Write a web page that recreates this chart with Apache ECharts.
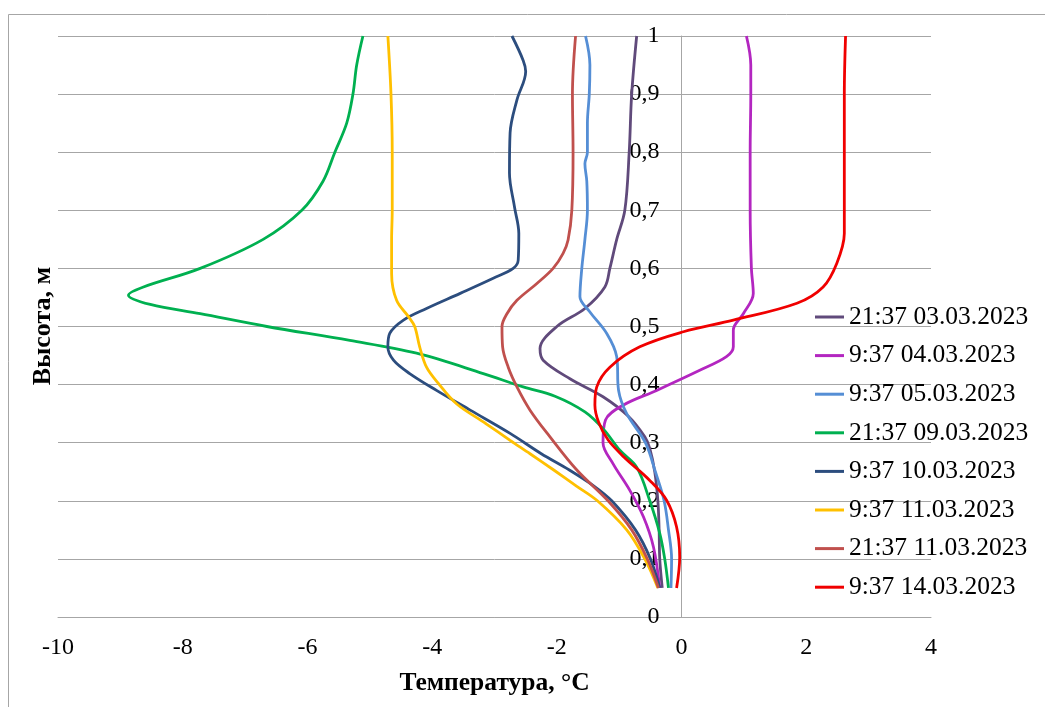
<!DOCTYPE html>
<html>
<head>
<meta charset="utf-8">
<script src="https://cdn.jsdelivr.net/npm/echarts@6/dist/echarts.min.js"></script>
<style>html,body{margin:0;padding:0;background:#fff}#c{width:1045px;height:707px}</style>
</head>
<body>
<div id="c"></div>
<script>
// Series names (legend order)
var seriesNames = ['21:37 03.03.2023','9:37 04.03.2023','9:37 05.03.2023','21:37 09.03.2023','9:37 10.03.2023','9:37 11.03.2023','21:37 11.03.2023','9:37 14.03.2023'];
var seriesColors = ['#604A7B','#B326C0','#558ED5','#00B050','#2C4D7E','#FFC000','#C0504D','#F00000'];

// [temperature °C, height m]
var s0303_2137 = [[-0.31,0.05],[-0.35,0.1],[-0.36,0.15],[-0.38,0.2],[-0.43,0.25],[-0.51,0.29],[-0.59,0.31],[-0.85,0.345],[-1.26,0.379],[-1.79,0.41],[-2.22,0.442],[-2.27,0.462],[-2.0,0.5],[-1.55,0.531],[-1.23,0.568],[-1.15,0.6],[-1.04,0.65],[-0.91,0.7],[-0.84,0.8],[-0.80,0.9],[-0.72,1.0]];
var s0403_0937 = [[-0.35,0.05],[-0.45,0.12],[-0.61,0.172],[-0.83,0.218],[-1.10,0.264],[-1.26,0.30],[-1.22,0.339],[-0.93,0.365],[-0.40,0.39],[0.30,0.425],[0.72,0.448],[0.83,0.465],[0.83,0.494],[0.99,0.522],[1.15,0.557],[1.12,0.6],[1.10,0.7],[1.10,0.8],[1.11,0.9],[1.11,0.95],[1.04,1.0]];
var s0503_0937 = [[-0.17,0.05],[-0.16,0.1],[-0.21,0.15],[-0.28,0.2],[-0.42,0.25],[-0.58,0.3],[-0.88,0.35],[-1.01,0.39],[-1.04,0.448],[-1.20,0.488],[-1.47,0.525],[-1.63,0.551],[-1.60,0.6],[-1.55,0.65],[-1.51,0.7],[-1.52,0.75],[-1.55,0.78],[-1.51,0.8],[-1.51,0.85],[-1.48,0.9],[-1.47,0.95],[-1.54,1.0]];
var s0903_2137 = [[-0.21,0.05],[-0.27,0.1],[-0.35,0.144],[-0.51,0.2],[-0.72,0.258],[-0.99,0.287],[-1.25,0.323],[-1.55,0.353],[-2.03,0.38],[-2.54,0.396],[-3.18,0.419],[-4.25,0.454],[-5.32,0.476],[-6.65,0.5],[-7.72,0.522],[-8.52,0.538],[-8.87,0.554],[-8.63,0.568],[-7.72,0.6],[-6.71,0.65],[-6.09,0.7],[-5.75,0.75],[-5.56,0.8],[-5.37,0.85],[-5.27,0.9],[-5.21,0.95],[-5.11,1.0]];
var s1003_0937 = [[-0.35,0.05],[-0.50,0.1],[-0.74,0.15],[-1.12,0.2],[-1.40,0.225],[-1.80,0.253],[-2.25,0.281],[-2.75,0.316],[-3.39,0.356],[-3.93,0.39],[-4.36,0.419],[-4.62,0.442],[-4.71,0.465],[-4.68,0.488],[-4.46,0.511],[-4.09,0.531],[-3.55,0.557],[-3.02,0.583],[-2.70,0.6],[-2.62,0.614],[-2.61,0.66],[-2.68,0.706],[-2.76,0.764],[-2.75,0.833],[-2.64,0.89],[-2.50,0.939],[-2.54,0.958],[-2.72,1.0]];
var s1103_0937 = [[-0.38,0.05],[-0.59,0.1],[-0.88,0.15],[-1.35,0.2],[-1.68,0.225],[-2.05,0.253],[-2.43,0.281],[-2.75,0.304],[-3.14,0.333],[-3.61,0.367],[-3.90,0.402],[-4.09,0.43],[-4.20,0.465],[-4.28,0.5],[-4.38,0.517],[-4.57,0.545],[-4.65,0.591],[-4.65,0.65],[-4.64,0.7],[-4.64,0.8],[-4.66,0.9],[-4.71,1.0]];
var s1103_2137 = [[-0.37,0.05],[-0.55,0.1],[-0.80,0.15],[-1.18,0.2],[-1.68,0.253],[-2.11,0.31],[-2.43,0.356],[-2.64,0.396],[-2.78,0.43],[-2.87,0.465],[-2.88,0.5],[-2.80,0.522],[-2.64,0.545],[-2.32,0.574],[-2.06,0.6],[-1.90,0.626],[-1.82,0.649],[-1.76,0.7],[-1.74,0.8],[-1.75,0.9],[-1.70,1.0]];
var s1403_0937 = [[-0.08,0.05],[-0.03,0.103],[-0.08,0.155],[-0.24,0.201],[-0.51,0.235],[-0.93,0.276],[-1.18,0.305],[-1.33,0.335],[-1.39,0.365],[-1.36,0.396],[-1.15,0.43],[-0.67,0.465],[0.03,0.491],[0.83,0.511],[1.85,0.54],[2.27,0.568],[2.49,0.609],[2.61,0.66],[2.61,0.7],[2.61,0.8],[2.61,0.9],[2.63,1.0]];
var seriesData = [s0303_2137,s0403_0937,s0503_0937,s0903_2137,s1003_0937,s1103_0937,s1103_2137,s1403_0937];

// Axis settings
var xMin = -10, xMax = 4, xStep = 2;
var yMin = 0, yMax = 1, yStep = 0.1;
var xTitle = 'Температура, °C';
var yTitle = 'Высота, м';

var FONT = "'Liberation Serif','Times New Roman',serif";
var GRID = {left: 58, right: 114, top: 36, bottom: 90};
var W = 1045;
var gridWidth = W - GRID.left - GRID.right;
// vertical axis crosses at temperature 0
var yAxisOffset = -((0 - xMin) / (xMax - xMin)) * gridWidth;

var chart = echarts.init(document.getElementById('c'), null, {renderer:'canvas'});
var series = seriesNames.map(function(n,i){
  return {
    name: n, type: 'line', data: seriesData[i], smooth: 0.35, symbol: 'none',
    lineStyle: {color: seriesColors[i], width: 2.8}, itemStyle: {color: seriesColors[i]},
    emphasis: {disabled: true}
  };
});
chart.setOption({
  animation: false,
  backgroundColor: '#fff',
  grid: {left: GRID.left, right: GRID.right, top: GRID.top, bottom: GRID.bottom, containLabel: false},
  xAxis: {
    type: 'value', min: xMin, max: xMax, interval: xStep,
    axisLine: {show: true, onZero: false, lineStyle: {color: '#a6a6a6', width: 1}},
    axisTick: {show: false},
    splitLine: {show: false},
    axisLabel: {margin: 19, color: '#000', fontFamily: FONT, fontSize: 24},
    name: xTitle, nameLocation: 'middle', nameGap: 53,
    nameTextStyle: {color: '#000', fontFamily: FONT, fontSize: 25.5, fontWeight: 'bold'}
  },
  yAxis: {
    type: 'value', min: yMin, max: yMax, interval: yStep, position: 'left', offset: yAxisOffset,
    axisLine: {show: true, onZero: false, lineStyle: {color: '#a6a6a6', width: 1}},
    axisTick: {show: false},
    splitLine: {show: true, lineStyle: {color: '#a6a6a6', width: 1}},
    axisLabel: {margin: 22, color: '#000', fontFamily: FONT, fontSize: 24,
      formatter: function(v){ var r = Math.round(v*10)/10; return String(r).replace('.', ','); }}
  },
  legend: {
    orient: 'vertical', left: 815, top: 304, padding: 0, itemWidth: 29, itemHeight: 3, itemGap: 12.6,
    icon: 'rect', selectedMode: false,
    textStyle: {color: '#000', fontFamily: FONT, fontSize: 25.5, lineHeight: 25},
    data: seriesNames
  },
  graphic: [
    {type: 'rect', shape: {x: 8.5, y: 14.5, width: 1100, height: 800}, style: {fill: 'none', stroke: '#a6a6a6', lineWidth: 1}, silent: true, z: -1},
    {type: 'text', x: 43, y: 326, rotation: Math.PI/2,
     style: {text: yTitle, fill: '#000', font: 'bold 26px ' + FONT, textAlign: 'center', textVerticalAlign: 'middle'}}
  ],
  series: series
});
</script>
</body>
</html>
